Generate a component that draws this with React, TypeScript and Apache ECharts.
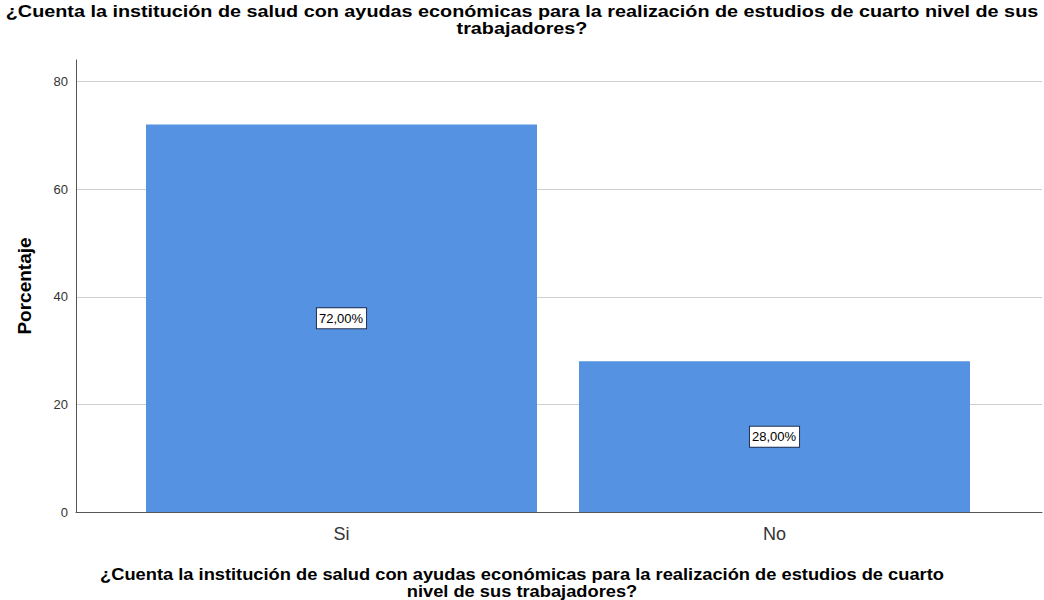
import React, { useEffect, useRef } from "react";
import * as echarts from "echarts";

const categories = ["Si", "No"];
const percentages = [72.0, 28.0];
const yTicks = [0, 20, 40, 60, 80];
const titleText =
  "¿Cuenta la institución de salud con ayudas económicas para la realización de estudios de cuarto nivel de sus\ntrabajadores?";
const xTitleText =
  "¿Cuenta la institución de salud con ayudas económicas para la realización de estudios de cuarto\nnivel de sus trabajadores?";
const yName = "Porcentaje";

const FONT = "'Liberation Sans', Arial, sans-serif";

export default function App() {
  const ref = useRef<HTMLDivElement>(null);
  useEffect(() => {
    document.body.style.margin = "0";
    const chart = echarts.init(ref.current!, null, { renderer: "svg" });
    const yMax = 84;
    chart.setOption({
      animation: false,
      backgroundColor: "#ffffff",
      textStyle: { fontFamily: FONT },
      graphic: [
        {
          type: "text",
          x: 522,
          y: 3,
          scaleX: 1.165,
          style: {
            text: titleText,
            x: 0,
            y: 0,
            textAlign: "center",
            textVerticalAlign: "top",
            fontSize: 17,
            lineHeight: 17,
            fontWeight: "bold",
            fontFamily: FONT,
            fill: "#000",
          },
        },
        {
          type: "text",
          x: 522,
          y: 566,
          scaleX: 1.076,
          style: {
            text: xTitleText,
            x: 0,
            y: 0,
            textAlign: "center",
            textVerticalAlign: "top",
            fontSize: 17,
            lineHeight: 17,
            fontWeight: "bold",
            fontFamily: FONT,
            fill: "#000",
          },
        },
      ],
      grid: [
        { left: 76, right: 2, top: 60, bottom: 88 },
        { left: 125, right: 53, top: 60, bottom: 88 },
      ],
      xAxis: [
        {
          gridIndex: 0,
          type: "value",
          min: 0,
          max: 1,
          axisLine: { show: true, lineStyle: { color: "#555", width: 1 } },
          axisTick: { show: false },
          axisLabel: { show: false },
          splitLine: { show: false },
        },
        {
          gridIndex: 1,
          type: "category",
          data: categories,
          axisLine: { show: false },
          axisTick: { show: false },
          axisLabel: { fontSize: 18, color: "#333", margin: 13, fontFamily: FONT },
          splitLine: { show: false },
        },
      ],
      yAxis: [
        {
          gridIndex: 0,
          type: "value",
          min: yTicks[0],
          max: yMax,
          interval: yTicks[1] - yTicks[0],
          name: yName,
          nameLocation: "middle",
          nameGap: 42,
          nameTextStyle: { fontSize: 19, fontWeight: "bold", color: "#000", fontFamily: FONT },
          axisLine: { show: true, lineStyle: { color: "#555", width: 1 } },
          axisTick: { show: false },
          axisLabel: { fontSize: 13, color: "#333", margin: 8, showMaxLabel: false, fontFamily: FONT },
          splitLine: { show: true, showMaxLine: false, showMinLine: false, lineStyle: { color: "#cfcfcf", width: 1 } },
        },
        {
          gridIndex: 1,
          type: "value",
          min: 0,
          max: yMax,
          show: false,
          splitLine: { show: false },
        },
      ],
      series: [
        {
          type: "bar",
          xAxisIndex: 1,
          yAxisIndex: 1,
          data: percentages,
          barWidth: 391,
          itemStyle: { color: "#5592e1" },
          label: {
            show: true,
            position: "inside",
            formatter: (p: any) => p.value.toFixed(2).replace(".", ",") + "%",
            color: "#000",
            fontSize: 13,
            fontFamily: FONT,
            backgroundColor: "#ffffff",
            borderColor: "#1f2f4f",
            borderWidth: 1,
            padding: [4, 3, 3, 2],
          },
        },
      ],
    });
    return () => chart.dispose();
  }, []);
  return <div ref={ref} style={{ width: 1044, height: 600 }} />;
}
